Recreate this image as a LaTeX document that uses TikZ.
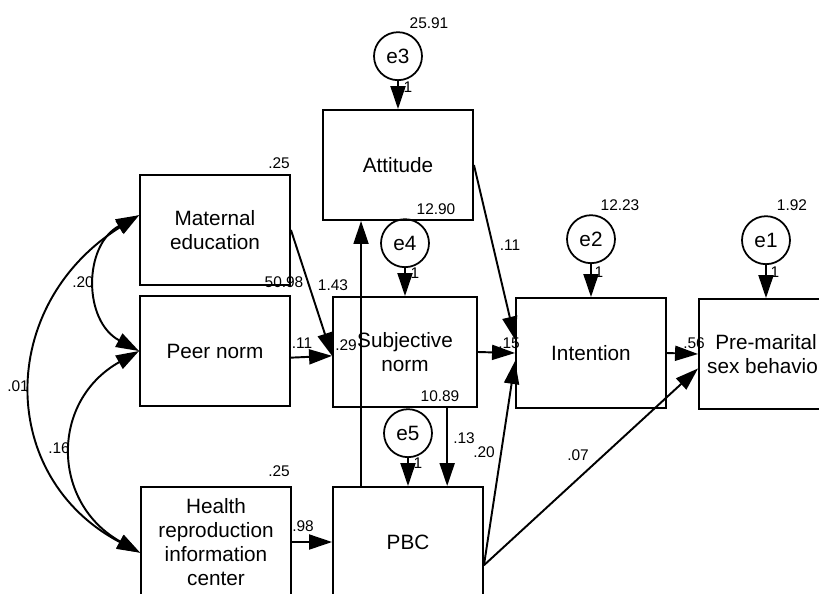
\documentclass[tikz,border=0pt]{standalone}
\usepackage{fontspec}
\setmainfont{Liberation Sans}
\usetikzlibrary{arrows.meta, positioning, calc}
\tikzset{
  obsbox/.style={rectangle, minimum width=3cm, minimum height=2.2cm, text centered, align=center, draw=black, line width=1.1pt, font=\fontsize{11.8}{13.8}\selectfont},
  errnode/.style={circle, minimum size=0.96cm, inner sep=0pt, draw=black, line width=1pt, font=\fontsize{11.8}{13.8}\selectfont},
  regpath/.style={line width=1.1pt, -{Triangle[length=4.6mm, width=3mm]}},
  covpath/.style={line width=1.1pt, {Triangle[length=4.6mm, width=3mm]}-{Triangle[length=4.6mm, width=3mm]}},
  est/.style={font=\fontsize{8.8}{10}\selectfont, inner sep=0pt}
}

\begin{document}
\begin{tikzpicture}[x=0.02cm, y=-0.02cm]
  \clip (0,0) rectangle (819,593);

  % Exogenous variables
  \node (mat) [obsbox] at (215,230) {Maternal\\education};
  \node (peer) [obsbox] at (215,351) {Peer norm};
  \node (hlt) [obsbox] at (216,542) {Health\\reproduction\\information\\center};

  % Mediators
  \node (att) [obsbox] at (398,165) {Attitude};
  \node (subj) [obsbox, minimum width=2.88cm] at (405,352) {Subjective\\norm};
  \node (pbc) [obsbox] at (408,542) {PBC};

  % Intention and behaviour
  \node (intn) [obsbox] at (591,353) {Intention};
  \node (pms) [obsbox, minimum width=2.68cm] at (766,354) {Pre-marital\\sex behavior};

  % Error terms
  \node (e3) [errnode, above=0.56cm of att] {e3};
  \node (e4) [errnode, above=0.56cm of subj] {e4};
  \node (e5) [errnode, above=0.56cm of pbc] {e5};
  \node (e2) [errnode, above=0.66cm of intn] {e2};
  \node (e1) [errnode, above=0.66cm of pms] {e1};

  \draw [regpath] (e3) -- (att);
  \draw [regpath] (e4) -- (subj);
  \draw [regpath] (e5) -- (pbc);
  \draw [regpath] (e2) -- (intn);
  \draw [regpath] (e1) -- (pms);

  % Covariances
  \draw [covpath] (mat.169) .. controls +(-56,30) and +(-56,-30) .. (peer.west);
  \draw [covpath] (mat.169) .. controls +(-143,90) and +(-143,-75) .. (hlt.188);
  \draw [covpath] (peer.west) .. controls +(-89,50) and +(-89,-50) .. (hlt.188);

  % Paths
  \draw [regpath] (mat.east) -- (subj.183);
  \draw [regpath] (peer.-5) -- (subj.183);
  \draw [regpath] (hlt.east) -- (pbc.west);
  \draw [regpath] (pbc.130) -- (pbc.130 |- att.south);
  \draw [regpath] (subj.-53) -- (subj.-53 |- pbc.north);
  \draw [regpath] (att.east) -- (intn.170);
  \draw [regpath] (subj.east) -- (intn.west);
  \draw [regpath] (pbc.-17) -- (intn.186);
  \draw [regpath] (pbc.-17) -- (pms.192);
  \draw [regpath] (intn.east) -- (pms.west);

  % Variances and intercepts
  \node (v3) [est] at (429,23) {25.91};
  \node (r3) [est] at (436,209) {12.90};
  \node (v2) [est] at (620,205) {12.23};
  \node (v1) [est] at (792,205) {1.92};
  \node (r4) [est] at (440,396) {10.89};
  \node (vmat) [est] at (279,163) {.25};
  \node (vpeer) [est] at (284,282) {50.98};
  \node (vhlt) [est] at (279,471) {.25};

  % Fixed loadings
  \node (f3) [est] at (408,87) {1};
  \node (f4) [est] at (415,273) {1};
  \node (f5) [est] at (418,463) {1};
  \node (f2) [est] at (599,272) {1};
  \node (f1) [est] at (775,272) {1};

  % Estimates
  \node (cmp) [est] at (83,282) {.20};
  \node (cmh) [est] at (18,386) {.01};
  \node (cph) [est] at (59,448) {.16};
  \node (bms) [est] at (333,285) {1.43};
  \node (bps) [est] at (302,343) {.11};
  \node (rs) [est] at (346,345) {.29};
  \node (bhp) [est] at (303,526) {.98};
  \node (bai) [est] at (510,245) {.11};
  \node (bsi) [est] at (509,343) {.15};
  \node (bsp) [est] at (464,438) {.13};
  \node (bpi) [est] at (484,452) {.20};
  \node (bpb) [est] at (578,455) {.07};
  \node (bib) [est] at (694,343) {.56};
\end{tikzpicture}
\end{document}
